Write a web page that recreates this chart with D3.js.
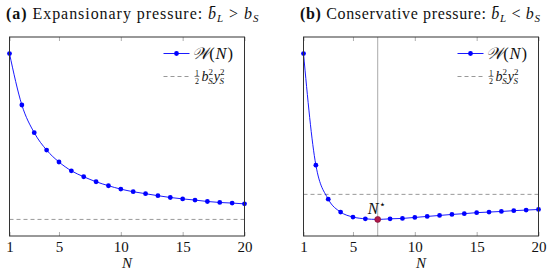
<!DOCTYPE html>
<html><head><meta charset="utf-8">
<script src="https://cdn.jsdelivr.net/npm/d3@7"></script>
<style>body{margin:0;background:#fff}svg{display:block}</style>
</head><body><svg id="c" width="550" height="280"></svg>
<script>
const N = d3.range(1, 21);
const xTicks = [1, 5, 10, 15, 20];
const wExpansionary = [91.6,65.8,51.9,43.2,37.2,32.8,29.8,27.3,25.3,23.6,22.3,21.3,20.3,19.4,18.7,18.1,17.4,16.9,16.6,16.2];
const wConservative = [91.6,35.5,18.4,11.9,9.4,8.5,8.2,8.5,8.7,9.2,9.7,10.2,10.7,11.1,11.6,11.9,12.2,12.6,12.9,13.2];
const refExpansionary = 8.4;
const refConservative = 20.8;
const nStar = 7;

(function(){
const FONT = "'Liberation Serif', 'DejaVu Serif', serif";
const svg = d3.select("#c");
const yTop = 37, yBot = 236;
const panels = [
  {x0: 9.5, x1: 244.5, data: wExpansionary, ref: refExpansionary, tag: "(a)", title: " Expansionary pressure: ", op: " > ", star: false, ls: 0.95},
  {x0: 303.5, x1: 538.5, data: wConservative, ref: refConservative, tag: "(b)", title: " Conservative pressure: ", op: " < ", star: true, ls: 0.65}
];

panels.forEach(p => {
  const g = svg.append("g");
  const x = d3.scaleLinear().domain([1, 20]).range([p.x0, p.x1]);
  const vals = p.data.concat([p.ref]);
  const [lo, hi] = d3.extent(vals);
  const pad = (hi - lo) * 0.1;
  const y = d3.scaleLinear().domain([lo - pad, hi + pad]).range([yBot, yTop]);

  const t = g.append("text").attr("x", p.x0 - 3.5).attr("y", 18.5).attr("font-size", 16).attr("letter-spacing", p.ls).attr("fill", "#111");
  t.append("tspan").attr("font-weight", "bold").text(p.tag);
  t.append("tspan").text(p.title);
  t.append("tspan").attr("font-style", "italic").text("b\u0304");
  t.append("tspan").attr("font-size", 11).attr("dy", 3).attr("font-style", "italic").text("L");
  t.append("tspan").attr("dy", -3).text(p.op);
  t.append("tspan").attr("font-style", "italic").text("b");
  t.append("tspan").attr("font-size", 11).attr("dy", 3).attr("font-style", "italic").text("S");

  const axB = d3.axisBottom(x).tickValues(xTicks).tickSize(-4).tickPadding(5.5).tickFormat(d3.format("d"));
  const axT = d3.axisTop(x).tickValues(xTicks).tickSize(-4).tickFormat("");
  const gb = g.append("g").attr("transform", `translate(0,${yBot})`).call(axB);
  const gt = g.append("g").attr("transform", `translate(0,${yTop})`).call(axT);
  [gb, gt].forEach(a => { a.select(".domain").remove(); a.selectAll(".tick line").attr("stroke", "#999").attr("stroke-width", 0.8); });
  gb.selectAll(".tick text").attr("font-size", 15).attr("fill", "#111");
  g.append("text").attr("x", (p.x0 + p.x1) / 2).attr("y", 268).attr("text-anchor", "middle")
    .attr("font-size", 15).attr("font-style", "italic").attr("fill", "#111").text("N");

  if (p.star) {
    g.append("line").attr("x1", x(nStar)).attr("x2", x(nStar)).attr("y1", yTop).attr("y2", yBot)
      .attr("stroke", "#aaa").attr("stroke-width", 1);
  }
  g.append("line").attr("x1", p.x0).attr("x2", p.x1).attr("y1", y(p.ref)).attr("y2", y(p.ref))
    .attr("stroke", "#999").attr("stroke-width", 1).attr("stroke-dasharray", "4,3");

  const line = d3.line().x((d, i) => x(N[i])).y(d => y(d)).curve(d3.curveMonotoneX);
  g.append("path").datum(p.data).attr("d", line).attr("fill", "none").attr("stroke", "#0000ff").attr("stroke-width", 0.9);
  g.selectAll("circle.pt").data(p.data).join("circle").attr("class", "pt")
    .attr("cx", (d, i) => x(N[i])).attr("cy", d => y(d)).attr("r", 2.4).attr("fill", "#0000ff");
  if (p.star) {
    const v = p.data[N.indexOf(nStar)];
    g.append("circle").attr("cx", x(nStar)).attr("cy", y(v)).attr("r", 3).attr("fill", "#b0194a").attr("stroke", "#7a0a30").attr("stroke-width", 0.6);
    const lab = g.append("text").attr("x", x(nStar) - 1).attr("y", y(v) - 5.5).attr("text-anchor", "middle").attr("font-size", 16).attr("fill", "#111");
    lab.append("tspan").attr("font-style", "italic").text("N");
    lab.append("tspan").attr("font-size", 11).attr("dy", -6).text("\u22C6");
  }

  g.append("rect").attr("x", p.x0).attr("y", yTop).attr("width", p.x1 - p.x0).attr("height", yBot - yTop)
    .attr("fill", "none").attr("stroke", "#333").attr("stroke-width", 1);

  const lx = p.x1 - 81, ly1 = 53.5, ly2 = 76.5;
  g.append("line").attr("x1", lx).attr("x2", lx + 26).attr("y1", ly1).attr("y2", ly1).attr("stroke", "#0000ff").attr("stroke-width", 0.9);
  g.append("circle").attr("cx", lx + 13).attr("cy", ly1).attr("r", 2.4).attr("fill", "#0000ff");
  const lt = g.append("text").attr("x", lx + 28).attr("y", ly1 + 5).attr("font-size", 16.5).attr("letter-spacing", 0.8).attr("fill", "#111");
  lt.append("tspan").attr("font-style", "italic").text("\uD835\uDCB2");
  lt.append("tspan").text("(");
  lt.append("tspan").attr("font-style", "italic").text("N");
  lt.append("tspan").text(")");
  g.append("line").attr("x1", lx).attr("x2", lx + 26).attr("y1", ly2).attr("y2", ly2).attr("stroke", "#999").attr("stroke-width", 1).attr("stroke-dasharray", "4,3");
  const fx = lx + 33.5;
  g.append("text").attr("x", fx).attr("y", ly2 - 1).attr("text-anchor", "middle").attr("font-size", 8).attr("fill", "#111").text("1");
  g.append("line").attr("x1", fx - 2.5).attr("x2", fx + 2.5).attr("y1", ly2).attr("y2", ly2).attr("stroke", "#111").attr("stroke-width", 0.5);
  g.append("text").attr("x", fx).attr("y", ly2 + 7).attr("text-anchor", "middle").attr("font-size", 8).attr("fill", "#111").text("2");
  const mt = g.append("text").attr("x", fx + 4.5).attr("y", ly2 + 4).attr("font-size", 14).attr("fill", "#111");
  mt.append("tspan").attr("font-style", "italic").text("b");
  mt.append("tspan").attr("font-size", 9).attr("dy", -6).text("2");
  mt.append("tspan").attr("font-size", 9).attr("font-style", "italic").attr("dx", -4.8).attr("dy", 9).text("S");
  mt.append("tspan").attr("font-style", "italic").attr("dy", -3).attr("dx", 1).text("y");
  mt.append("tspan").attr("font-size", 9).attr("dy", -6).text("2");
  mt.append("tspan").attr("font-size", 9).attr("font-style", "italic").attr("dx", -4.8).attr("dy", 9).text("S");
});
svg.selectAll("text").style("font-family", FONT);
})();
</script></body></html>
